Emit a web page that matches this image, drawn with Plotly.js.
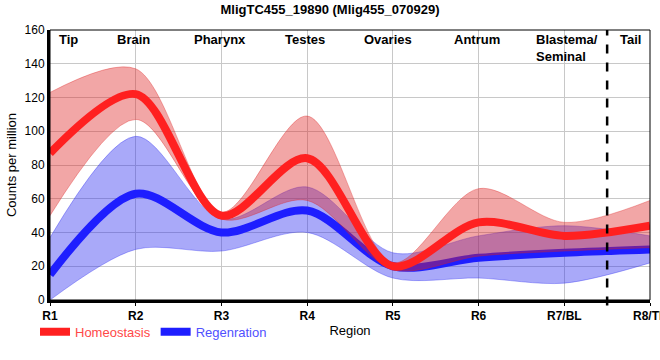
<!DOCTYPE html>
<html>
<head>
<meta charset="utf-8">
<script src="https://cdn.plot.ly/plotly-3.0.1.min.js"></script>
<style>body{margin:0;padding:0;background:#fff}#chart{width:660px;height:360px}</style>
</head>
<body>
<div id="chart"></div>
<script>
const regions = ['R1','R2','R3','R4','R5','R6','R7/BL','R8/TE'];
const homeoMean  = [87, 122, 50, 84, 20, 46, 38, 44];
const homeoUpper = [123, 137, 52, 109, 22, 66, 46, 59];
const homeoLower = [50, 107, 48, 59, 18, 26, 29, 31];
const regenMean  = [15, 63, 40, 53, 20, 25, 28, 30];
const regenUpper = [37, 97, 48, 67, 28, 38, 44, 38];
const regenLower = [0, 30, 29, 40, 13, 13, 10, 22];
const regionNames = ['Tip','Brain','Pharynx','Testes','Ovaries','Antrum','Blastema/<br>Seminal','Tail'];
const yTicks = [0,20,40,60,80,100,120,140,160];

const labelX = [0.22, 0.97, 1.98, 2.97, 3.94, 4.98, 5.65, 6.77];
const labelAnchor = ['center','center','center','center','center','center','left','center'];

const SM = 0.9;
const traces = [
  {x: regions, y: regenLower, mode:'lines', line:{shape:'spline', smoothing:SM, width:1, color:'rgba(40,40,240,0.35)'}, showlegend:false, hoverinfo:'skip'},
  {x: regions, y: regenUpper, mode:'lines', fill:'tonexty', fillcolor:'rgba(40,40,240,0.4)', line:{shape:'spline', smoothing:SM, width:1, color:'rgba(40,40,240,0.35)'}, showlegend:false, hoverinfo:'skip'},
  {x: regions, y: regenMean, mode:'lines', name:'<span style="color:#5050ff">Regenration</span>', line:{shape:'spline', smoothing:SM, width:8, color:'rgb(30,30,255)'}, legendrank:2},
  {x: regions, y: homeoLower, mode:'lines', line:{shape:'spline', smoothing:SM, width:1, color:'rgba(222,32,32,0.35)'}, showlegend:false, hoverinfo:'skip'},
  {x: regions, y: homeoUpper, mode:'lines', fill:'tonexty', fillcolor:'rgba(222,32,32,0.4)', line:{shape:'spline', smoothing:SM, width:1, color:'rgba(222,32,32,0.35)'}, showlegend:false, hoverinfo:'skip'},
  {x: regions, y: homeoMean, mode:'lines', name:'<span style="color:#ff4848">Homeostasis</span>', line:{shape:'spline', smoothing:SM, width:8, color:'rgb(255,32,32)'}, legendrank:1}
];

const annotations = regionNames.map((t,i)=>({
  x: labelX[i], y: 1, xref:'x', yref:'paper', yanchor:'top', xanchor: labelAnchor[i], align:'left',
  text:'<b>'+t+'</b>', showarrow:false, font:{family:'Liberation Sans, Arial, sans-serif', size:13, color:'#000'}
}));

const layout = {
  width:660, height:360,
  margin:{l:50, r:10, t:30, b:60},
  paper_bgcolor:'#fff', plot_bgcolor:'#fff',
  font:{family:'Liberation Sans, Arial, sans-serif', size:12, color:'#000'},
  title:{text:'<b>MligTC455_19890 (Mlig455_070929)</b>', x:0.5, xanchor:'center', y:0.975, yanchor:'middle', font:{size:13, color:'#000'}},
  xaxis:{type:'category', categoryorder:'array', categoryarray:regions, range:[0,7], showgrid:true, gridcolor:'#c8c8c8', gridwidth:1,
    showline:true, linecolor:'#000', linewidth:3, ticks:'outside', ticklen:3, tickcolor:'#000', zeroline:false,
    tickfont:{size:12, weight:'bold', color:'#000'},
    title:{text:'Region', standoff:4, font:{size:13, color:'#000'}}},
  yaxis:{range:[0,160], tickvals:yTicks, showgrid:true, gridcolor:'#c8c8c8', gridwidth:1, zeroline:false,
    showline:true, linecolor:'#000', linewidth:3, ticks:'', tickfont:{size:12, color:'#000'},
    title:{text:'Counts per million', standoff:6, font:{size:13, color:'#000'}}},
  showlegend:true,
  legend:{orientation:'h', x:-0.025, xanchor:'left', y:-0.118, yanchor:'middle', font:{size:13}, traceorder:'normal', itemwidth:30, bgcolor:'rgba(0,0,0,0)'},
  shapes:[
    {type:'rect', xref:'paper', yref:'paper', x0:0, x1:1, y0:0, y1:1, line:{color:'#000', width:1}, layer:'above'},
    {type:'line', xref:'x', yref:'paper', x0:6.5, x1:6.5, y0:-0.02, y1:1, line:{color:'#000', width:2.5, dash:'dash'}, layer:'above'}
  ],
  annotations: annotations
};

Plotly.newPlot('chart', traces, layout, {displayModeBar:false, staticPlot:true});
</script>
</body>
</html>
